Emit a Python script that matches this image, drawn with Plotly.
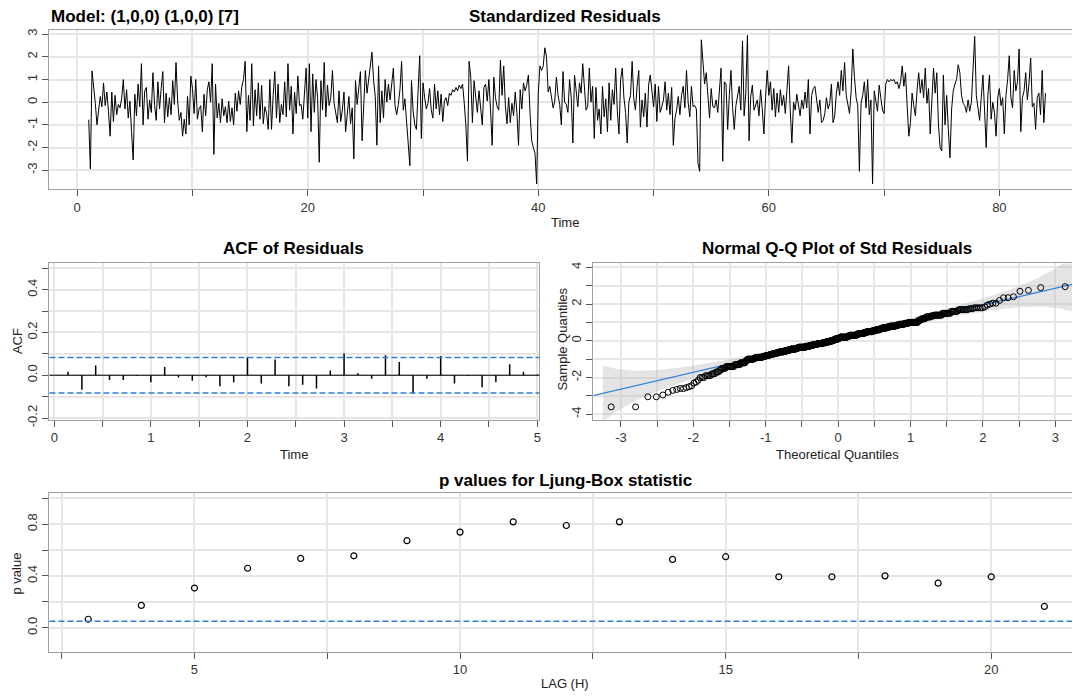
import plotly.graph_objects as go
from statistics import NormalDist
import math

W, H = 1073, 699

# ---------------- data ----------------
# standardized residuals, frequency 7, starting at time 1
resid = [
    -0.77, -2.95, 1.38, 0.75, -0.05, -1.0, -0.35,
    0.25, -0.2, 0.85, -0.15, 0.45, -0.4, -1.5,
    0.45, -0.85, 0.3, -0.55, -0.1, -0.25, 0.15,
    1.0, -0.3, 0.55, -0.7, 0.05, -1.3, -2.55,
    0.35, -0.6, 0.8, -0.2, 1.7, -1.0, 0.5,
    0.65, -0.75, 0.1, -0.45, 1.3, -0.15, -0.8,
    0.9, -0.3, 0.6, 1.35, -0.9, 0.4, -0.65,
    0.2, -0.55, 0.95, -0.1, 1.75, 0.05, -0.8,
    -0.45, -1.5, -0.75, -1.4, 0.25, -1.0, 1.15,
    0.6, -0.5, 1.0, -0.75, -0.3, -0.15, -1.3,
    0.35, -0.6, 0.55, 0.9, 0.0, 1.7, -2.3,
    0.8, -0.7, -0.05, -0.9, 0.15, -0.6, -0.2,
    -0.9, 0.05, -0.85, -0.25, -1.0, 0.4, -0.4,
    0.5, -0.1, 0.7, 1.0, 1.8, -1.3, 0.3,
    -0.8, 1.7, -1.05, 0.55, -0.6, 0.85, -0.75,
    0.75, -0.95, -0.2, -0.5, -1.2, 1.0, -1.2,
    0.3, 1.35, -0.7, 0.8, -0.9, -0.1, -0.55,
    0.9, -0.65, 1.7, -0.35, 0.7, -1.4, 0.45,
    -0.5, 1.15, -0.15, -0.1, -0.75, 0.6, 1.5,
    -0.7, 1.7, -1.3, 1.25, -0.45, 1.0, 0.2,
    -2.65, 0.95, -0.35, 1.75, -0.65, 0.75, -0.15,
    0.2, 1.4, -0.05, -0.45, -0.9, 0.5, -0.85,
    -0.35, 0.45, -1.3, -0.6, 0.25, -0.95, -0.25,
    -2.5, 0.95, -0.1, 0.65, 1.35, -1.7, -0.2,
    1.4, 0.4, 1.0, 1.5, 2.2, 0.95, 0.25,
    -1.9, 1.6, -0.9, 0.5, -0.7, 1.0, 0.0,
    0.8, 0.1, 0.95, 1.5, -0.15, -0.55, -0.1,
    0.55, 1.8, -0.35, 0.15, -0.85, -1.4, -2.8,
    0.95, -0.4, -1.0, -1.2, 0.5, 2.05, -1.6,
    0.85, 0.2, -0.3, -0.05, 0.6, -0.35, -0.7,
    0.8, -0.3, 0.5, -0.55, 0.35, -0.85, 0.05,
    0.2, -0.15, 0.4, 0.3, 0.55, 0.45, 0.65,
    0.5, 0.75, 0.6, 0.8, 0.0, -1.0, -2.6,
    1.8, 1.1, -0.9, 0.95, 0.25, -0.45, 0.5,
    -0.4, -1.0, 0.65, 0.8, 0.05, 1.0, -0.35,
    -1.9, 1.1, 0.2, -0.2, -0.35, 1.85, 0.3,
    1.6, -0.15, -0.95, 0.2, -0.9, -0.05, -0.6,
    0.45, -0.45, -1.9, 0.55, -0.3, 0.85, 0.5,
    0.75, 1.2, -0.5, -1.7, -2.0, -2.25, -3.6,
    0.4, 1.6, 1.4, 1.6, 2.4, 2.0, 0.45,
    0.7, 0.2, -0.25, 0.05, 1.1, 0.3, -0.1,
    -1.0, 1.35, 0.0, -0.1, -0.45, 1.0, 0.2,
    -1.8, 1.2, 0.3, -0.2, 0.85, 0.4, 1.7,
    0.5, -0.35, -0.2, 1.5, 0.0, 0.7, -1.6,
    0.65, -0.8, -0.3, -1.4, 0.7, -0.65, 0.15,
    -1.3, 0.85, -0.8, 0.55, -0.1, 1.5, -0.4,
    -1.4, 1.0, 1.5, 0.2, -0.45, -1.8, 0.0,
    0.3, 1.8, 0.15, -0.35, 0.7, 1.4, -1.1,
    0.1, -0.65, 0.4, -1.1, 0.75, 1.2, 0.4,
    -0.2, 0.8, -0.85, 0.7, -0.45, -0.2, 0.1,
    0.9, -0.35, 0.4, -0.55, 0.65, -1.9, -0.7,
    -0.35, 0.25, -0.55, 0.3, 0.7, -0.25, 1.4,
    0.0, -0.65, 0.7, -0.2, -0.15, -0.3, -2.7,
    -3.05, 2.75, 1.8, 0.8, 1.3, 0.3, -0.7,
    0.6, -0.2, -0.25, 0.1, -0.45, 0.35, 1.5,
    -2.6, 0.9, 0.8, -1.2, 0.3, 1.4, -0.25,
    -1.2, -0.15, 0.35, 0.7, -0.35, 2.7, -0.6,
    0.4, 2.95, -1.7, 0.25, 0.75, -0.35, -0.1,
    0.1, -0.6, 0.55, -0.3, -1.4, 0.2, 1.4,
    0.3, 0.9, -0.35, 0.6, -0.65, 0.4, -0.45,
    0.55, -0.15, 0.3, -0.5, 0.7, 1.6, -0.35,
    -1.8, 0.0, -0.35, 0.35, -0.15, -0.6, 0.1,
    -0.3, 0.45, -0.25, 1.0, -1.4, 0.3, 0.6,
    0.7, 0.2, -0.45, 0.1, -0.9, -0.8, -0.5,
    0.2, -0.3, -0.05, 0.8, -0.9, -0.6, 0.4,
    0.9, 0.3, 1.4, 0.5, 1.75, 0.3, -0.05,
    -0.5, 0.5, 2.35, 1.1, 0.2, -0.15, -3.05,
    -0.05, 0.3, 0.9, -0.25, 1.0, -0.55, 0.1,
    -3.6, 0.5, -0.05, -0.4, 0.75, 0.2, -0.35,
    -0.5, 0.8, 1.0, 0.9, 1.0, 0.95, 1.0,
    0.8, 0.9, 0.6, 0.9, 1.6, 0.7, 1.3,
    -0.15, -1.5, -0.9, 0.4, -0.15, -0.6, 0.5,
    1.3, 0.4, 1.0, 0.2, 1.5, -0.05, 0.6,
    -1.4, 0.2, 1.5, 0.4, 1.3, -1.0, -2.0,
    -2.15, 1.2, -1.0, 0.3, -1.2, -2.45, -0.3,
    0.5, 0.8, 1.0, 1.65, 1.3, 0.3, -0.05,
    -0.15, -0.45, 0.1, -0.4, 0.0, 1.7, 2.9,
    0.3, -0.35, -0.8, 0.2, 1.2, -0.35, -2.0,
    0.3, 1.2, -0.75, 0.0, -0.45, -1.5, 0.2,
    0.6, -0.15, 0.2, -1.4, 0.3, 1.0, 2.05,
    0.2, -0.25, 1.4, 0.5, 0.9, 2.35, -1.3,
    0.2, 0.5, 1.3, 0.1, 0.85, 1.95, -0.2,
    -0.05, -1.2, 0.2, 0.4, -0.55, 1.4, -0.9,
    0.4,
]
start_time = 1
frequency = 7

# ACF of residuals at lags k/7, k = 1..35
acf_values = [0.016, -0.068, 0.045, -0.022, -0.022, -0.003, -0.033,
              0.039, -0.010, -0.026, -0.009, -0.051, -0.033, 0.084,
              -0.039, 0.074, -0.051, -0.045, -0.062, 0.022, 0.102,
              0.009, -0.016, 0.093, 0.062, -0.087, -0.016, 0.090,
              -0.039, -0.003, -0.056, -0.033, 0.051, 0.016, 0.003]
acf_bound = 0.083

# Ljung-Box p values
lb_lags = [3, 4, 5, 6, 7, 8, 9, 10, 11, 12, 13, 14, 15, 16, 17, 18, 19, 20, 21]
lb_pvalues = [0.066, 0.173, 0.307, 0.460, 0.536, 0.556, 0.673, 0.739, 0.818,
              0.790, 0.818, 0.528, 0.549, 0.394, 0.394, 0.401, 0.345, 0.394, 0.165]
lb_alpha = 0.05

# ---------------- derived quantities ----------------
n = len(resid)
time = [start_time + i / frequency for i in range(n)]
acf_lags = [(k + 1) / frequency for k in range(len(acf_values))]

nd = NormalDist()
theo = [nd.inv_cdf((i + 0.5) / n) for i in range(n)]
samp = sorted(resid)


def q7(xs, p):
    h = (len(xs) - 1) * p
    lo = int(math.floor(h))
    hi = min(lo + 1, len(xs) - 1)
    return xs[lo] + (h - lo) * (xs[hi] - xs[lo])


z1, z3 = nd.inv_cdf(0.25), nd.inv_cdf(0.75)
q1, q3 = q7(samp, 0.25), q7(samp, 0.75)
slope = (q3 - q1) / (z3 - z1)
intercept = q1 - slope * z1

band_x = [-3.25 + 0.05 * i for i in range(132)]
band_lo, band_hi = [], []
for xv in band_x:
    p = nd.cdf(xv)
    se = slope * math.sqrt(p * (1 - p) / n) / nd.pdf(xv)
    band_lo.append(intercept + slope * xv - 3.4 * se)
    band_hi.append(intercept + slope * xv + 3.4 * se)

# ---------------- styling ----------------
FONT = "Liberation Sans, Arial, sans-serif"
GRID = "#E6E6E6"
FRAME = "#A0A0A0"
TICKC = "#555555"
BLUE = "#2F80D8"


def px_x(p):
    return p / W


def px_y(p):
    return 1 - p / H


def axis(domain, rng, vals, texts, anchor, mirror=True, angle=0):
    return dict(domain=domain, range=rng, tickvals=vals, ticktext=texts,
                anchor=anchor, showline=True, linecolor=FRAME, linewidth=1,
                mirror=mirror, ticks="outside", ticklen=6, tickcolor=TICKC,
                tickwidth=1, showgrid=True, gridcolor=GRID, gridwidth=1.5,
                zeroline=False, tickangle=angle,
                tickfont=dict(family=FONT, size=13, color="#333333"))


def lab(vals, keep):
    out = []
    for v in vals:
        if any(abs(v - k) < 1e-9 for k in keep):
            out.append("%g" % v)
        else:
            out.append("")
    return out


fig = go.Figure()

# --- panel 1: standardized residuals ---
fig.add_trace(go.Scatter(x=time, y=resid, mode="lines",
                         line=dict(color="black", width=1),
                         xaxis="x", yaxis="y", hoverinfo="skip"))

# --- panel 2: ACF ---
sx, sy = [], []
for l, v in zip(acf_lags, acf_values):
    sx += [l, l, None]
    sy += [0, v, None]
fig.add_trace(go.Scatter(x=sx, y=sy, mode="lines",
                         line=dict(color="black", width=1.5),
                         xaxis="x2", yaxis="y2", hoverinfo="skip"))

# --- panel 3: QQ ---
fig.add_trace(go.Scatter(x=band_x + band_x[::-1], y=band_hi + band_lo[::-1],
                         fill="toself", fillcolor="rgba(190,190,190,0.42)",
                         line=dict(width=0), mode="lines",
                         xaxis="x3", yaxis="y3", hoverinfo="skip"))
fig.add_trace(go.Scatter(x=[-3.6, 3.6],
                         y=[intercept - 3.6 * slope, intercept + 3.6 * slope],
                         mode="lines", line=dict(color=BLUE, width=1.2),
                         xaxis="x3", yaxis="y3", hoverinfo="skip"))
fig.add_trace(go.Scatter(x=theo, y=samp, mode="markers",
                         marker=dict(symbol="circle-open", size=6, color="black",
                                     line=dict(width=1, color="black")),
                         xaxis="x3", yaxis="y3", hoverinfo="skip"))

# --- panel 4: Ljung-Box ---
fig.add_trace(go.Scatter(x=lb_lags, y=lb_pvalues, mode="markers",
                         marker=dict(symbol="circle-open", size=6, color="black",
                                     line=dict(width=1.2, color="black")),
                         xaxis="x4", yaxis="y4", hoverinfo="skip"))

# domains (pixel based)
d_top_x = [px_x(49), 1.0]
d_top_y = [px_y(190.5), px_y(29)]
d_mid_y = [px_y(424.2), px_y(265.8)]
d_acf_x = [px_x(49.5), px_x(540)]
d_qq_x = [px_x(594), 1.0]
d_lb_x = [px_x(49.5), 1.0]
d_lb_y = [px_y(659), px_y(498)]

t_x = [0, 10, 20, 30, 40, 50, 60, 70, 80]
t_y = [-3, -2, -1, 0, 1, 2, 3]
a_x = [i * 0.5 for i in range(11)]
a_y = [round(-0.2 + 0.1 * i, 1) for i in range(8)]
q_x = [round(-3 + 0.5 * i, 1) for i in range(13)]
q_y = [-4, -3, -2, -1, 0, 1, 2, 3, 4]
l_x = [2.5, 5, 7.5, 10, 12.5, 15, 17.5, 20]
l_y = [0, 0.2, 0.4, 0.6, 0.8, 1.0]

fig.update_layout(
    width=W, height=H, margin=dict(l=0, r=0, t=0, b=0),
    paper_bgcolor="white", plot_bgcolor="white", showlegend=False,
    xaxis=axis(d_top_x, [-2.45, 86.3], t_x, lab(t_x, [0, 20, 40, 60, 80]), "y"),
    yaxis=axis(d_top_y, [-3.83, 3.20], t_y, [str(v) for v in t_y], "x",
               mirror=False, angle=-90),
    xaxis2=axis(d_acf_x, [-0.05, 5.023], a_x, lab(a_x, [0, 1, 2, 3, 4, 5]), "y2"),
    yaxis2=axis(d_mid_y, [-0.208, 0.523], a_y,
                ["%.1f" % v if v in (-0.2, 0.0, 0.2, 0.4) else "" for v in a_y],
                "x2", angle=-90),
    xaxis3=axis(d_qq_x, [-3.38, 3.23], q_x, lab(q_x, [-3, -2, -1, 0, 1, 2, 3]), "y3"),
    yaxis3=axis(d_mid_y, [-4.30, 4.22], q_y, lab(q_y, [-4, -2, 0, 2, 4]), "x3",
                mirror=False, angle=-90),
    xaxis4=axis(d_lb_x, [2.27, 21.52], l_x, lab(l_x, [5, 10, 15, 20]), "y4"),
    yaxis4=axis(d_lb_y, [-0.183, 1.044], l_y,
                ["0.0", "", "0.4", "", "0.8", ""], "x4", mirror=False, angle=-90),
)

# reference lines
shapes = [
    dict(type="line", xref="x2 domain", yref="y2", x0=0, x1=1, y0=0, y1=0,
         line=dict(color="black", width=1.2)),
    dict(type="line", xref="x2 domain", yref="y2", x0=0, x1=1,
         y0=acf_bound, y1=acf_bound, line=dict(color=BLUE, width=1.5, dash="6px,3px")),
    dict(type="line", xref="x2 domain", yref="y2", x0=0, x1=1,
         y0=-acf_bound, y1=-acf_bound, line=dict(color=BLUE, width=1.5, dash="6px,3px")),
    dict(type="line", xref="x4 domain", yref="y4", x0=0, x1=1,
         y0=lb_alpha, y1=lb_alpha, line=dict(color=BLUE, width=1.5, dash="6px,3px")),
]
fig.update_layout(shapes=shapes)


def ann(text, x, y, size=13, bold=False, xanchor="center", angle=0):
    return dict(text=("<b>%s</b>" % text) if bold else text,
                x=px_x(x), y=px_y(y), xref="paper", yref="paper",
                xanchor=xanchor, yanchor="middle", showarrow=False,
                textangle=angle,
                font=dict(family=FONT, size=size, color="black" if bold else "#222222"))


annotations = [
    ann("Model: (1,0,0) (1,0,0) [7]", 49, 16, size=17, bold=True, xanchor="left"),
    ann("Standardized Residuals", 566, 16, size=17, bold=True),
    ann("Time", 566, 224),
    ann("ACF of Residuals", 294, 251, size=17, bold=True),
    ann("Time", 294, 459.5),
    ann("ACF", 17, 344.5, angle=-90),
    ann("Normal Q-Q Plot of Std Residuals", 838, 251, size=17, bold=True),
    ann("Theoretical Quantiles", 838, 459.5),
    ann("Sample Quantiles", 563, 342.5, angle=-90),
    ann("p values for Ljung-Box statistic", 566, 486, size=17, bold=True),
    ann("LAG (H)", 566, 691),
    ann("p value", 17, 580, angle=-90),
]
fig.update_layout(annotations=annotations)

fig.write_html("out.html",
               config={"displayModeBar": False},
               post_script="document.body.style.margin='0px';"
                           "document.body.style.overflow='hidden';")
